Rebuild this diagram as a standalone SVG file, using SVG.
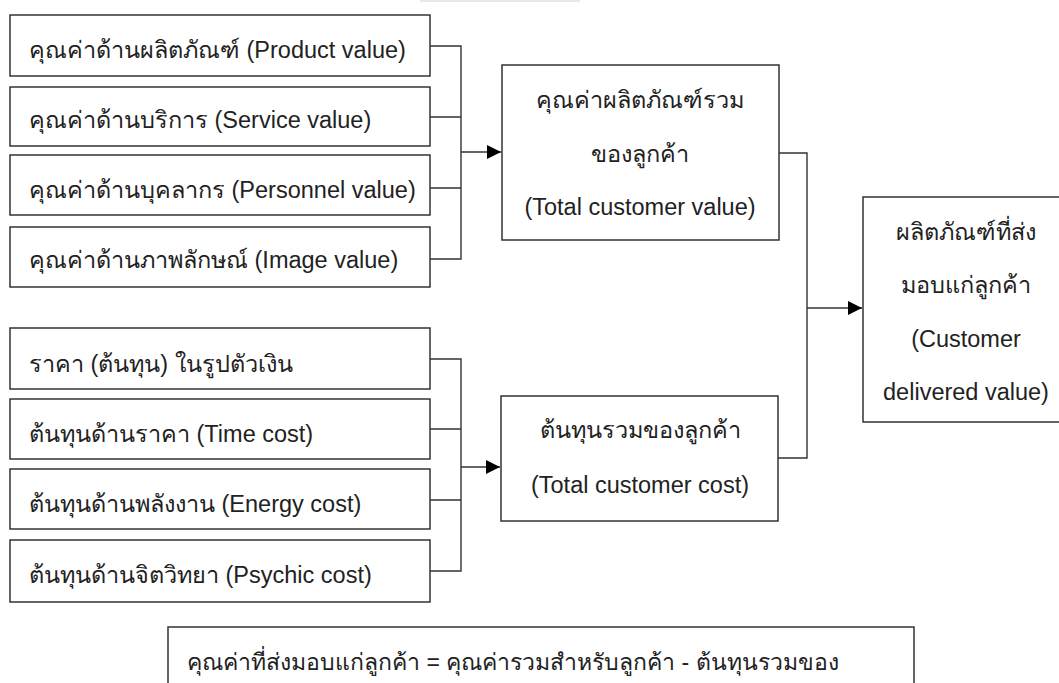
<svg xmlns="http://www.w3.org/2000/svg" width="1059" height="683" viewBox="0 0 1059 683">
<style>
.box{fill:#fff;stroke:#333;stroke-width:1.5}
.ln{fill:none;stroke:#333;stroke-width:1.4}
.t{font-family:"Liberation Sans",Arial,sans-serif;font-size:23.5px;fill:#222}
.f{font-size:23px}
.c{text-anchor:middle}
</style>
<defs>
<marker id="arr" viewBox="0 0 10 10" refX="10" refY="5" markerWidth="14" markerHeight="14" markerUnits="userSpaceOnUse" orient="auto">
<path d="M0,0 L10,5 L0,10 Z" fill="#000"/>
</marker>
</defs>
<rect width="1059" height="683" fill="#fff"/>
<rect x="420" y="0" width="160" height="2" fill="#e8e8e8"/>
<g id="v1"><rect class="box" x="10" y="15" width="420" height="61"/><text class="t" x="29" y="58">คุณค่าด้านผลิตภัณฑ์ (Product value)</text></g>
<g id="v2"><rect class="box" x="10" y="87" width="420" height="59"/><text class="t" x="29" y="128">คุณค่าด้านบริการ (Service value)</text></g>
<g id="v3"><rect class="box" x="10" y="155" width="420" height="60"/><text class="t" x="29" y="198">คุณค่าด้านบุคลากร (Personnel value)</text></g>
<g id="v4"><rect class="box" x="10" y="227" width="420" height="60"/><text class="t" x="29" y="268">คุณค่าด้านภาพลักษณ์ (Image value)</text></g>
<g id="c1"><rect class="box" x="10" y="328" width="420" height="61"/><text class="t" x="29" y="372">ราคา (ต้นทุน) ในรูปตัวเงิน</text></g>
<g id="c2"><rect class="box" x="10" y="399" width="420" height="60"/><text class="t" x="29" y="442">ต้นทุนด้านราคา (Time cost)</text></g>
<g id="c3"><rect class="box" x="10" y="469" width="420" height="60"/><text class="t" x="29" y="512">ต้นทุนด้านพลังงาน (Energy cost)</text></g>
<g id="c4"><rect class="box" x="10" y="540" width="420" height="62"/><text class="t" x="29" y="583">ต้นทุนด้านจิตวิทยา (Psychic cost)</text></g>
<g id="tv"><rect class="box" x="502" y="65" width="277" height="175"/>
<text class="t c" x="640" y="108">คุณค่าผลิตภัณฑ์รวม</text>
<text class="t c" x="640" y="162">ของลูกค้า</text>
<text class="t c" x="640" y="215">(Total customer value)</text></g>
<g id="tc"><rect class="box" x="501" y="396" width="277" height="125"/>
<text class="t c" x="640" y="438">ต้นทุนรวมของลูกค้า</text>
<text class="t c" x="640" y="493">(Total customer cost)</text></g>
<g id="cdv"><rect class="box" x="863" y="197" width="210" height="225"/>
<text class="t c" x="966" y="240">ผลิตภัณฑ์ที่ส่ง</text>
<text class="t c" x="966" y="293">มอบแก่ลูกค้า</text>
<text class="t c" x="966" y="347">(Customer</text>
<text class="t c" x="966" y="400">delivered value)</text></g>
<g id="formula"><rect class="box" x="168" y="627" width="746" height="70"/>
<text class="t f" x="187" y="670">คุณค่าที่ส่งมอบแก่ลูกค้า = คุณค่ารวมสำหรับลูกค้า - ต้นทุนรวมของ</text></g>
<g id="connectors">
<path class="ln" d="M430,46 H461 V259 H430 M430,117 H461 M430,188 H461"/>
<path class="ln" d="M461,152 H501" marker-end="url(#arr)"/>
<path class="ln" d="M430,359 H461 V571 H430 M430,429 H461 M430,500 H461"/>
<path class="ln" d="M461,467 H500" marker-end="url(#arr)"/>
<path class="ln" d="M779,153 H807 V458 H778"/>
<path class="ln" d="M807,308 H862" marker-end="url(#arr)"/>
</g>
</svg>
